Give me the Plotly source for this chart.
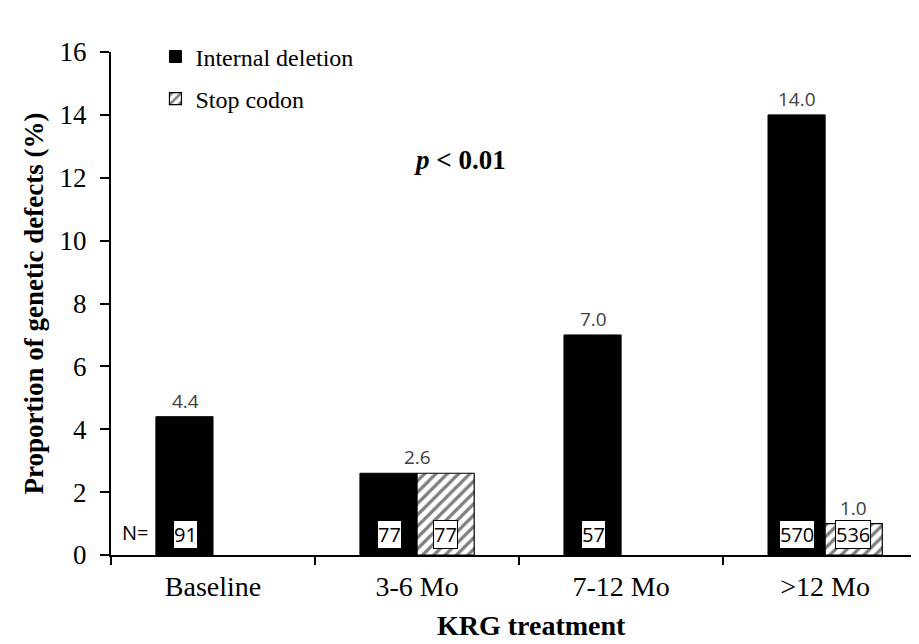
import plotly.graph_objects as go

categories = ["Baseline", "3-6 Mo", "7-12 Mo", ">12 Mo"]
internal_deletion = [4.4, 2.6, 7.0, 14.0]
stop_codon = [None, 2.6, None, 1.0]
n_internal = ["91", "77", "57", "570"]
n_stop = [None, "77", None, "536"]
value_labels_internal = ["4.4", None, "7.0", "14.0"]
value_labels_stop = [None, None, None, "1.0"]
group_labels = [None, "2.6", None, None]

serif = "Liberation Serif"
sans = "Open Sans"

fig = go.Figure()
fig.add_trace(go.Bar(
    x=categories, y=internal_deletion, name="Internal deletion",
    marker=dict(color="black", line=dict(color="black", width=1)),
    legendgroup="a",
))
fig.add_trace(go.Bar(
    x=categories, y=stop_codon, name="Stop codon",
    marker=dict(color="white", line=dict(color="black", width=1.2),
                pattern=dict(shape="/", fgcolor="black", bgcolor="white", size=8, solidity=0.4)),
    legendgroup="b",
))

ann = []
off = 28
lab_font = dict(family=sans, size=19, color="#404040")
n_font = dict(family=sans, size=20, color="black")
for i, c in enumerate(categories):
    if value_labels_internal[i]:
        ann.append(dict(x=c, y=internal_deletion[i], xshift=-off, yshift=1, text=value_labels_internal[i],
                        showarrow=False, yanchor="bottom", font=lab_font))
    if value_labels_stop[i]:
        ann.append(dict(x=c, y=stop_codon[i], xshift=off, yshift=1, text=value_labels_stop[i],
                        showarrow=False, yanchor="bottom", font=lab_font))
    if group_labels[i]:
        ann.append(dict(x=c, y=max(v for v in (internal_deletion[i], stop_codon[i]) if v is not None),
                        yshift=1, text=group_labels[i], showarrow=False, yanchor="bottom", font=lab_font))
    if n_internal[i]:
        ann.append(dict(x=c, y=0, xshift=-off, yshift=6, text=n_internal[i], showarrow=False, yanchor="bottom",
                        bgcolor="white", bordercolor="black", borderwidth=1, borderpad=0, font=n_font))
    if n_stop[i]:
        ann.append(dict(x=c, y=0, xshift=off, yshift=6, text=n_stop[i], showarrow=False, yanchor="bottom",
                        bgcolor="white", bordercolor="black", borderwidth=1, borderpad=0, font=n_font))

ann.append(dict(x=categories[0], y=0, xshift=-78, yshift=7, text="N=", showarrow=False, yanchor="bottom",
                font=n_font))
ann.append(dict(xref="paper", yref="y", x=0.432, y=12.56, yanchor="middle", text="<b><i>p</i> < 0.01</b>",
                showarrow=False, font=dict(family=serif, size=27, color="black")))
ann.append(dict(xref="paper", yref="paper", x=0.52, y=-0.141, yanchor="middle", xanchor="center",
                text="<b>KRG treatment</b>", showarrow=False, font=dict(family=serif, size=28, color="black")))

fig.update_layout(
    width=911, height=636,
    margin=dict(l=103, r=0, t=44, b=89),
    paper_bgcolor="white", plot_bgcolor="white",
    barmode="group", bargap=0.44, bargroupgap=0,
    showlegend=True,
    legend=dict(x=0.055, y=1.035, xanchor="left", yanchor="top", traceorder="grouped",
                tracegroupgap=8, font=dict(family=serif, size=24, color="black"),
                bgcolor="rgba(0,0,0,0)", itemwidth=30),
    annotations=ann,
    xaxis=dict(range=[-0.5, 3.46], showline=True, linecolor="black", linewidth=2,
               ticks="outside", tickson="boundaries", ticklen=8, tickwidth=2, tickcolor="black",
               tickfont=dict(family=serif, size=28, color="black"), ticklabelstandoff=5,
               showgrid=False, zeroline=False),
    yaxis=dict(range=[0, 16], dtick=2, showline=True, linecolor="black", linewidth=2,
               ticks="outside", ticklen=9, tickwidth=2, tickcolor="black",
               tickfont=dict(family=serif, size=27, color="black"), ticklabelstandoff=8,
               title=dict(text="<b>Proportion of genetic defects (%)</b>", font=dict(family=serif, size=27, color="black"), standoff=8),
               showgrid=False, zeroline=False),
)

fig.write_html("out.html")
